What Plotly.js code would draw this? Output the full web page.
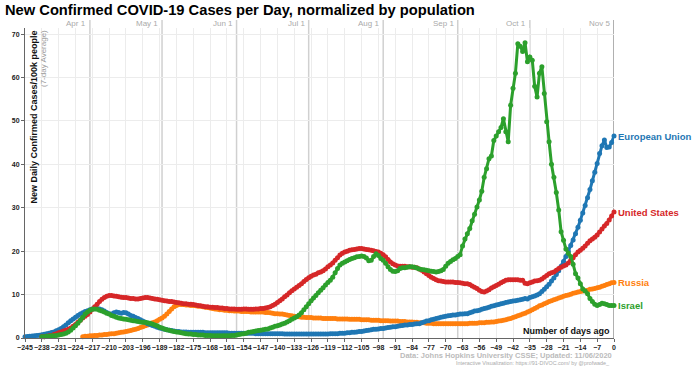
<!DOCTYPE html>
<html><head><meta charset="utf-8">
<script src="https://cdn.plot.ly/plotly-3.0.1.min.js"></script>
<style>html,body{margin:0;padding:0;background:#fff}#chart{width:700px;height:366px}</style>
</head><body><div id="chart"></div>
<script>
// European Union, day -245 .. 0 (rows of 7 days)
const euStart = -245;
const euValues = [
0.3,0.35,0.4,0.45,0.5,0.55,0.65,
0.75,0.85,1.0,1.1,1.25,1.4,1.65,
1.9,2.2,2.6,3.0,3.5,4.0,4.4,
4.8,5.2,5.5,5.8,6.1,6.3,6.5,
6.7,6.8,6.8,6.7,6.5,6.2,5.9,
5.6,5.5,5.8,6.0,5.9,5.7,5.9,
5.8,5.5,5.2,5.0,4.7,4.5,4.2,
3.9,3.6,3.3,3.1,2.9,2.7,2.5,
2.3,2.2,2.0,1.9,1.8,1.7,1.6,
1.5,1.5,1.4,1.4,1.4,1.3,1.3,
1.3,1.3,1.3,1.3,1.3,1.2,1.2,
1.2,1.2,1.2,1.2,1.2,1.2,1.2,
1.2,1.1,1.1,1.1,1.1,1.1,1.1,
1.1,1.1,1.1,1.1,1.1,1.0,1.0,
1.0,1.0,1.0,1.0,1.0,1.0,1.0,
1.0,1.0,1.0,0.9,0.9,0.9,0.9,
0.9,0.9,0.9,0.9,0.9,0.9,0.9,
0.9,0.9,0.9,0.9,0.9,0.9,0.9,
0.9,1.0,1.0,1.0,1.0,1.1,1.1,
1.1,1.2,1.2,1.3,1.3,1.4,1.5,
1.5,1.6,1.7,1.8,1.9,2.0,2.0,
2.1,2.2,2.2,2.3,2.4,2.5,2.6,
2.6,2.7,2.8,2.9,3.0,3.0,3.1,
3.1,3.2,3.3,3.3,3.5,3.7,3.9,
4.0,4.2,4.3,4.5,4.6,4.8,4.9,
5.0,5.1,5.2,5.3,5.3,5.4,5.5,
5.5,5.6,5.6,5.8,6.0,6.2,6.3,
6.4,6.6,6.8,6.9,7.1,7.3,7.4,
7.6,7.7,7.9,8.0,8.2,8.3,8.4,
8.5,8.6,8.7,8.8,8.9,9.1,9.0,
9.3,9.5,9.7,9.9,10.2,10.7,11.2,
11.8,12.4,13.1,13.8,14.6,15.5,16.5,
17.6,18.8,20.0,21.3,22.6,24.0,25.5,
27.1,28.8,30.5,32.3,34.2,36.2,38.2,
40.2,42.5,44.3,45.6,43.9,44.0,45.0,
46.5];

// United States, day -238 .. 0
const usStart = -238;
const usValues = [
0.3,0.3,0.4,0.5,0.6,0.8,1.0,
1.2,1.4,1.6,1.8,2.0,2.3,2.7,
3.1,3.6,4.1,4.6,5.0,5.4,6.0,
6.6,7.2,7.8,8.4,8.9,9.3,9.6,
9.8,9.8,9.7,9.6,9.5,9.4,9.3,
9.3,9.2,9.1,9.1,9.0,9.0,9.1,
9.2,9.3,9.3,9.2,9.1,9.0,8.9,
8.8,8.7,8.6,8.5,8.4,8.4,8.3,
8.2,8.1,8.0,7.9,7.9,7.8,7.8,
7.7,7.6,7.5,7.4,7.3,7.2,7.2,
7.1,7.1,7.0,7.0,6.9,6.9,6.8,
6.8,6.7,6.7,6.7,6.6,6.6,6.6,
6.7,6.7,6.6,6.6,6.6,6.7,6.7,
6.8,6.8,6.9,7.0,7.2,7.5,7.8,
8.2,8.6,9.0,9.5,9.9,10.4,10.9,
11.3,11.7,12.1,12.5,13.0,13.5,13.9,
14.2,14.5,14.7,15.0,15.2,15.5,15.9,
16.4,16.8,17.3,17.9,18.5,19.1,19.5,
19.8,20.0,20.2,20.3,20.4,20.5,20.6,
20.6,20.5,20.4,20.3,20.2,20.1,19.9,
19.8,19.5,19.2,18.7,18.1,17.5,17.1,
16.8,16.6,16.5,16.5,16.5,16.4,16.4,
16.3,16.3,16.2,15.9,15.6,15.2,14.8,
14.4,14.0,13.7,13.4,13.2,13.1,13.0,
12.9,12.9,12.9,12.9,12.8,12.8,12.7,
12.6,12.5,12.5,12.3,12.0,11.7,11.4,
11.0,10.7,10.6,10.8,11.1,11.5,11.8,
12.1,12.4,12.7,13.0,13.3,13.4,13.4,
13.4,13.4,13.4,13.3,13.3,12.6,12.5,
12.7,12.9,13.1,13.2,13.3,13.6,14.0,
14.4,14.8,15.0,15.2,15.6,16.0,16.3,
16.6,16.8,17.3,17.9,18.5,19.2,19.8,
20.2,20.7,21.2,21.8,22.4,22.8,23.2,
23.7,24.4,25.1,25.8,26.4,27.2,28.1,
29.0];

// Russia, day -221 .. 0
const ruStart = -221;
const ruValues = [
0.3,0.4,0.4,0.5,
0.5,0.6,0.6,0.7,0.7,0.8,0.8,
0.9,1.0,1.0,1.1,1.2,1.3,1.4,
1.5,1.6,1.7,1.9,2.0,2.2,2.4,
2.6,2.8,3.0,3.2,3.5,3.7,4.0,
4.3,4.6,5.0,5.5,6.1,6.7,7.2,
7.5,7.7,7.7,7.7,7.6,7.6,7.5,
7.5,7.4,7.3,7.3,7.2,7.1,7.0,
6.9,6.8,6.7,6.6,6.5,6.5,6.4,
6.4,6.3,6.3,6.2,6.2,6.2,6.1,
6.1,6.1,6.1,6.0,6.0,6.0,6.0,
6.0,6.0,5.9,5.9,5.8,5.7,5.6,
5.6,5.5,5.5,5.4,5.3,5.2,5.1,
5.0,4.9,4.9,4.8,4.8,4.7,4.7,
4.7,4.6,4.6,4.6,4.6,4.5,4.5,
4.5,4.5,4.5,4.5,4.4,4.4,4.4,
4.4,4.4,4.3,4.3,4.3,4.3,4.3,
4.2,4.2,4.2,4.2,4.1,4.1,4.1,
4.1,4.0,4.0,4.0,4.0,3.9,3.9,
3.9,3.9,3.8,3.8,3.8,3.7,3.7,
3.7,3.6,3.6,3.5,3.5,3.5,3.4,
3.4,3.4,3.3,3.3,3.3,3.3,3.3,
3.3,3.3,3.3,3.3,3.3,3.3,3.3,
3.3,3.3,3.3,3.4,3.4,3.4,3.4,
3.5,3.5,3.5,3.6,3.6,3.7,3.7,
3.8,3.9,4.0,4.1,4.2,4.4,4.5,
4.7,4.9,5.1,5.3,5.5,5.7,6.0,
6.2,6.5,6.8,7.1,7.4,7.6,7.9,
8.1,8.4,8.6,8.8,9.0,9.2,9.4,
9.6,9.8,9.9,10.1,10.3,10.4,10.6,
10.7,10.8,10.9,11.0,11.2,11.3,11.4,
11.6,11.7,11.9,12.1,12.3,12.5,12.7,
12.8];

// Israel, day -238 .. 0
const ilStart = -238;
const ilValues = [
0.3,0.3,0.4,0.4,0.5,0.5,0.6,
0.7,0.8,0.9,1.1,1.4,1.8,2.3,
2.8,3.4,4.1,4.8,5.5,6.0,6.4,
6.6,6.7,6.6,6.4,6.2,6.0,5.7,
5.5,5.2,5.0,4.8,4.6,4.5,4.4,
4.3,4.2,4.1,4.0,3.9,3.8,3.7,
3.6,3.6,3.5,3.4,3.2,3.0,2.8,
2.5,2.3,2.1,1.9,1.8,1.6,1.5,
1.4,1.3,1.2,1.1,1.0,0.9,0.9,
0.8,0.8,0.7,0.7,0.7,0.6,0.6,
0.6,0.5,0.5,0.5,0.5,0.5,0.5,
0.5,0.5,0.6,0.6,0.7,0.8,0.9,
1.0,1.1,1.3,1.4,1.5,1.6,1.7,
1.8,1.9,2.0,2.1,2.3,2.5,2.7,
2.8,3.0,3.2,3.4,3.7,4.0,4.3,
4.6,4.9,5.3,5.8,6.5,7.2,7.9,
8.6,9.2,9.8,10.4,11.0,11.6,12.2,
12.8,13.3,14.0,15.0,16.0,16.8,17.2,
17.5,17.8,18.1,18.3,18.5,18.7,18.8,
18.9,18.8,18.4,17.8,17.9,18.8,19.4,
19.0,18.3,17.9,17.2,16.4,15.8,15.4,
15.3,15.5,16.0,16.2,16.2,16.3,16.4,
16.4,16.3,16.1,15.9,15.8,15.7,15.6,
15.5,15.4,15.3,15.2,15.3,15.5,15.8,
16.5,17.2,17.6,18.0,18.3,18.8,19.2,
21.2,22.8,24.0,25.2,27.0,28.5,30.2,
31.8,33.8,37.0,39.0,41.3,41.9,45.5,
46.5,47.5,48.5,50.5,47.5,45.2,53.6,
57.5,61.0,67.8,67.2,66.0,68.0,63.6,
64.7,64.0,58.0,55.5,61.0,62.5,56.3,
49.8,45.2,40.0,37.0,33.5,29.5,24.5,
22.5,20.5,19.5,18.8,17.0,14.8,13.8,
12.5,11.3,10.8,10.2,9.1,8.4,7.8,
7.5,7.7,8.0,7.9,7.7,7.5,7.5,
7.5];

const seriesNames = ['European Union', 'United States', 'Russia', 'Israel'];
const seriesStarts = [euStart, usStart, ruStart, ilStart];
const seriesValues = [euValues, usValues, ruValues, ilValues];
const seriesColors = ['#1f77b4', '#d62728', '#ff7f0e', '#2ca02c'];

const monthLabels = ['Apr 1', 'May 1', 'Jun 1', 'Jul 1', 'Aug 1', 'Sep 1', 'Oct 1', 'Nov 5'];
const monthDays = [-218, -188, -157, -127, -96, -65, -35, 0];

const FONT = 'Liberation Sans, Arial, Helvetica, sans-serif';

// draw order: Russia, EU, US, Israel on top
const order = [2, 0, 1, 3];
const traces = order.map(k => ({
  type: 'scatter',
  mode: 'lines+markers',
  x: seriesValues[k].map((v, i) => seriesStarts[k] + i),
  y: seriesValues[k],
  line: {color: seriesColors[k], width: 3},
  marker: {color: seriesColors[k], size: 5},
  cliponaxis: false,
  hoverinfo: 'skip',
  showlegend: false
}));

const shapes = monthDays.map((d, i) => ({
  type: 'line', xref: 'x', yref: 'paper',
  x0: d, x1: d, y0: 0, y1: 1.026,
  line: {color: i === monthDays.length - 1 ? '#b0b0b0' : '#d0d0d0', width: i === monthDays.length - 1 ? 2 : 1.5},
  layer: 'below'
}));

const annotations = [];
monthDays.forEach((d, i) => annotations.push({
  xref: 'x', yref: 'paper', x: d, y: 1.013, xanchor: 'right', yanchor: 'middle', xshift: -2,
  text: monthLabels[i], showarrow: false, font: {family: FONT, size: 8, color: '#aaaaaa'}
}));
seriesNames.forEach((n, k) => annotations.push({
  xref: 'paper', yref: 'y', x: 1, y: seriesValues[k][seriesValues[k].length - 1],
  xanchor: 'left', yanchor: 'middle', xshift: 2,
  text: '<b>' + n + '</b>', showarrow: false, font: {family: FONT, size: 9.5, color: seriesColors[k]}
}));
annotations.push({
  xref: 'paper', yref: 'paper', x: 0, y: 1, xanchor: 'left', yanchor: 'top', xshift: 1, yshift: -1,
  textangle: -90, text: '<b>New Daily Confirmed Cases/100k people</b>', showarrow: false,
  font: {family: FONT, size: 9, color: '#111'}
});
annotations.push({
  xref: 'paper', yref: 'paper', x: 0, y: 1, xanchor: 'left', yanchor: 'top', xshift: 12, yshift: 0,
  textangle: -90, text: '(7-day Average)', showarrow: false,
  font: {family: FONT, size: 8, color: '#999'}
});
annotations.push({
  xref: 'paper', yref: 'paper', x: 1, y: 0, xanchor: 'right', yanchor: 'bottom', xshift: -2, yshift: 0,
  text: '<b>Number of days ago</b>', showarrow: false, font: {family: FONT, size: 9, color: '#111'}
});
annotations.push({
  xref: 'paper', yref: 'paper', x: 1, y: 0, xanchor: 'right', yanchor: 'middle', xshift: 0, yshift: -17,
  text: '<b>Data: Johns Hopkins University CSSE; Updated: 11/06/2020</b>', showarrow: false,
  font: {family: FONT, size: 7.5, color: '#bbbbbb'}
});
annotations.push({
  xref: 'paper', yref: 'paper', x: 1, y: 0, xanchor: 'right', yanchor: 'middle', xshift: -2, yshift: -25,
  text: 'Interactive Visualization: https://91-DIVOC.com/ by @profwade_', showarrow: false,
  font: {family: FONT, size: 5.4, color: '#aaaaaa'}
});
annotations.push({
  xref: 'paper', yref: 'paper', x: 0, y: 1, xanchor: 'left', yanchor: 'middle', xshift: -22, yshift: 18,
  text: '<b>New Confirmed COVID-19 Cases per Day, normalized by population</b>', showarrow: false,
  font: {family: FONT, size: 14.7, color: '#000'}
});

const layout = {
  width: 700, height: 366,
  margin: {l: 25, r: 86, t: 28, b: 28, pad: 0},
  paper_bgcolor: '#fff', plot_bgcolor: '#fff',
  font: {family: FONT},
  xaxis: {
    range: [-245, 0], tick0: -245, dtick: 7, tickmode: 'linear', tickangle: 0,
    showgrid: true, gridcolor: '#ececec', gridwidth: 1,
    zeroline: false, showline: true, linecolor: '#666', linewidth: 1,
    ticks: 'outside', ticklen: 3, tickcolor: '#666',
    tickfont: {family: FONT, size: 7, color: '#222', weight: 'bold'}
  },
  yaxis: {
    range: [0, 71.4], tick0: 0, dtick: 10, tickmode: 'linear',
    showgrid: true, gridcolor: '#ececec', gridwidth: 1,
    zeroline: false, showline: true, linecolor: '#666', linewidth: 1,
    ticks: 'outside', ticklen: 3, tickcolor: '#666',
    tickfont: {family: FONT, size: 7, color: '#222', weight: 'bold'}
  },
  shapes: shapes,
  annotations: annotations
};

Plotly.newPlot('chart', traces, layout, {displayModeBar: false, staticPlot: true});
</script>
</body></html>
